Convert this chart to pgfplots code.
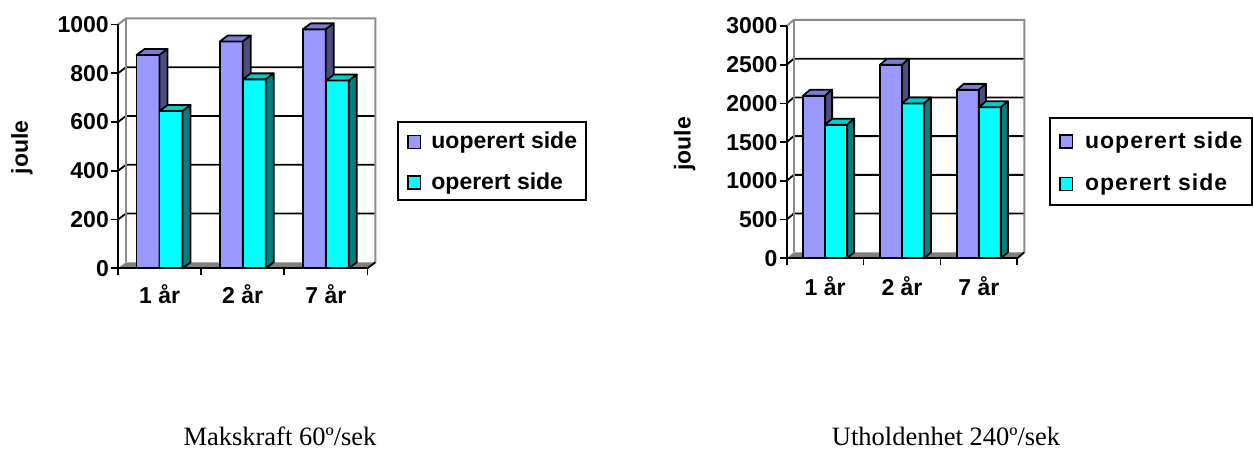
\documentclass[border=0pt]{standalone}
\usepackage{pgfplots}
\usepackage{pgfplotstable}
\pgfplotsset{compat=1.18}
\usepackage{fontspec}
\setmainfont{Liberation Sans}
\newfontfamily\serif{Liberation Serif}
\definecolor{uopF}{HTML}{9999FF}
\definecolor{uopT}{HTML}{7C7CD6}
\definecolor{uopS}{HTML}{4D4D80}
\definecolor{opF}{HTML}{00FFFF}
\definecolor{opT}{HTML}{00CCCC}
\definecolor{opS}{HTML}{008080}
\definecolor{wallgray}{HTML}{8C8C8C}
\definecolor{floorgray}{HTML}{808080}

\pgfplotstableread{
x uop op
0 875 645
1 930 775
2 980 770
}\maks
\pgfplotstableread{
x uop op
0 2100 1725
1 2500 2000
2 2175 1950
}\uthold

\newcommand\lbl{\fontsize{23}{27}\selectfont\bfseries}

\pgfplotsset{
  bar3d/.style n args={8}{% #1 offset, #2 width, #3 unit, #4 front, #5 top, #6 side, #7 dx, #8 dy
    scatter, only marks, mark=text, text mark={},
    visualization depends on=rawy\as\rawy,
    scatter/@pre marker code/.code={%
      \pgfmathsetmacro\barh{\rawy*#3}%
      \filldraw[fill=#4, draw=black, line width=1.8pt, line join=round]
        (#1pt,0pt) rectangle (#1pt+#2pt,-\barh pt);
      \filldraw[fill=#5, draw=black, line width=1.8pt, line join=round]
        (#1pt,0pt) -- ++(#7pt,#8pt) -- ++(#2pt,0pt) -- ++(-#7pt,-#8pt) -- cycle;
      \filldraw[fill=#6, draw=black, line width=1.8pt, line join=round]
        (#1pt+#2pt,0pt) -- ++(#7pt,#8pt) -- ++(0pt,-\barh pt) -- ++(-#7pt,-#8pt) -- cycle;
    },
    scatter/@post marker code/.code={},
  },
  common/.style={
    scale only axis, clip=false, axis on top,
    xmin=-0.5, xmax=2.5, ymin=0,
    axis x line*=bottom, axis y line*=left,
    axis line style={black, line width=1.8pt, -},
    xtick={-0.5,0.5,1.5,2.5}, xticklabels={},
    extra x ticks={0,1,2}, extra x tick labels={1 år,2 år,7 år},
    extra x tick style={major tick length=0pt},
    tick align=outside, major tick length=7pt,
    tick style={black, line width=1.8pt},
    ticklabel style={font=\lbl},
    /pgf/number format/assume math mode=true,
    /pgf/number format/1000 sep={},
    yticklabel style={inner sep=2pt},
    ylabel={joule},
    legend cell align=left,
  },
}

\begin{document}
\begin{tikzpicture}
% ---------------- left chart ----------------
\begin{axis}[common,
  at={(118pt,181.7pt)}, anchor=south west,
  width=249.4pt, height=243.8pt, ymax=1000,
  ytick={0,200,...,1000},
  xticklabel style={yshift=-12.7pt},
  every axis y label/.style={at={(axis description cs:-0.385,0.4955)}, rotate=90, anchor=center, font=\lbl},
  legend style={at={(axis description cs:1.1203,0.605)}, anchor=north west,
    draw=black, line width=1.8pt, font=\lbl,
    nodes={inner sep=0pt, text height=16.6pt, text depth=0pt},
    row sep=23.4pt, column sep=10pt,
    inner xsep=9pt, inner ysep=10pt},
]
\fill[floorgray] (axis cs:-0.5,0) -- ([xshift=8pt,yshift=6pt]axis cs:-0.5,0) -- ([xshift=8pt,yshift=6pt]axis cs:2.5,0) -- (axis cs:2.5,0) -- cycle;
\pgfplotsinvokeforeach{200,400,600,800}{
  \draw[black, line width=1.8pt] (axis cs:-0.5,#1) -- ([xshift=8pt,yshift=6pt]axis cs:-0.5,#1) -- ([xshift=8pt,yshift=6pt]axis cs:2.5,#1);
}
\draw[wallgray, line width=2pt] (axis cs:-0.5,1000) -- ([xshift=8pt,yshift=6pt]axis cs:-0.5,1000) -- ([xshift=8pt,yshift=6pt]axis cs:2.5,1000) -- ([xshift=8pt,yshift=6pt]axis cs:2.5,0);
\draw[wallgray, line width=2pt] ([xshift=8pt,yshift=6pt]axis cs:-0.5,0) -- ([xshift=8pt,yshift=6pt]axis cs:-0.5,1000);
\draw[black, line width=1.8pt] (axis cs:2.5,0) -- ([xshift=8pt,yshift=6pt]axis cs:2.5,0);
\addplot[bar3d={-23}{23}{0.2438}{uopF}{uopT}{uopS}{8}{6},
  legend image code/.code={\filldraw[fill=uopF, draw=black, line width=1.6pt] (0pt,-8.3pt) rectangle (12.5pt,4.7pt);}]
  table[x=x, y=uop] {\maks};
\addlegendentry{uoperert side}
\addplot[bar3d={0}{23}{0.2438}{opF}{opT}{opS}{8}{6},
  legend image code/.code={\filldraw[fill=opF, draw=black, line width=1.6pt] (0pt,-8.3pt) rectangle (12.5pt,4.7pt);}]
  table[x=x, y=op] {\maks};
\addlegendentry{operert side}
\end{axis}

% ---------------- right chart ----------------
\begin{axis}[common,
  at={(786.7pt,191.7pt)}, anchor=south west,
  width=230.6pt, height=232.3pt, ymax=3000,
  ytick={0,500,...,3000},
  xticklabel style={yshift=-14.7pt},
  every axis y label/.style={at={(axis description cs:-0.4428,0.492)}, rotate=90, anchor=center, font=\lbl},
  legend style={at={(axis description cs:1.1379,0.6066)}, anchor=north west,
    draw=black, line width=1.8pt, font=\lbl\addfontfeature{LetterSpace=4.6},
    nodes={inner sep=0pt, text height=16.7pt, text depth=0pt},
    row sep=25pt, column sep=11.6pt,
    inner xsep=9.3pt, inner ysep=13.3pt},
]
\fill[floorgray] (axis cs:-0.5,0) -- ([xshift=7pt,yshift=6pt]axis cs:-0.5,0) -- ([xshift=7pt,yshift=6pt]axis cs:2.5,0) -- (axis cs:2.5,0) -- cycle;
\pgfplotsinvokeforeach{500,1000,1500,2000,2500}{
  \draw[black, line width=1.8pt] (axis cs:-0.5,#1) -- ([xshift=7pt,yshift=6pt]axis cs:-0.5,#1) -- ([xshift=7pt,yshift=6pt]axis cs:2.5,#1);
}
\draw[wallgray, line width=2pt] (axis cs:-0.5,3000) -- ([xshift=7pt,yshift=6pt]axis cs:-0.5,3000) -- ([xshift=7pt,yshift=6pt]axis cs:2.5,3000) -- ([xshift=7pt,yshift=6pt]axis cs:2.5,0);
\draw[wallgray, line width=2pt] ([xshift=7pt,yshift=6pt]axis cs:-0.5,0) -- ([xshift=7pt,yshift=6pt]axis cs:-0.5,3000);
\draw[black, line width=1.8pt] (axis cs:2.5,0) -- ([xshift=7pt,yshift=6pt]axis cs:2.5,0);
\addplot[bar3d={-22}{22}{0.077433}{uopF}{uopT}{uopS}{7}{6},
  legend image code/.code={\filldraw[fill=uopF, draw=black, line width=1.6pt] (0pt,-8.3pt) rectangle (12.5pt,4.7pt);}]
  table[x=x, y=uop] {\uthold};
\addlegendentry{uoperert side}
\addplot[bar3d={0}{22}{0.077433}{opF}{opT}{opS}{7}{6},
  legend image code/.code={\filldraw[fill=opF, draw=black, line width=1.6pt] (0pt,-8.3pt) rectangle (12.5pt,4.7pt);}]
  table[x=x, y=op] {\uthold};
\addlegendentry{operert side}
\end{axis}

\node[anchor=base west, inner sep=0pt, font=\serif\fontsize{26.5}{30}\selectfont] at (183.3pt,4.3pt) {Makskraft 60º/sek};
\node[anchor=base west, inner sep=0pt, font=\serif\fontsize{26.5}{30}\selectfont] at (831.7pt,4.5pt) {Utholdenhet 240º/sek};

\pgfresetboundingbox
\path[use as bounding box] (0pt,0pt) rectangle (1253pt,450pt);
\end{tikzpicture}
\end{document}
